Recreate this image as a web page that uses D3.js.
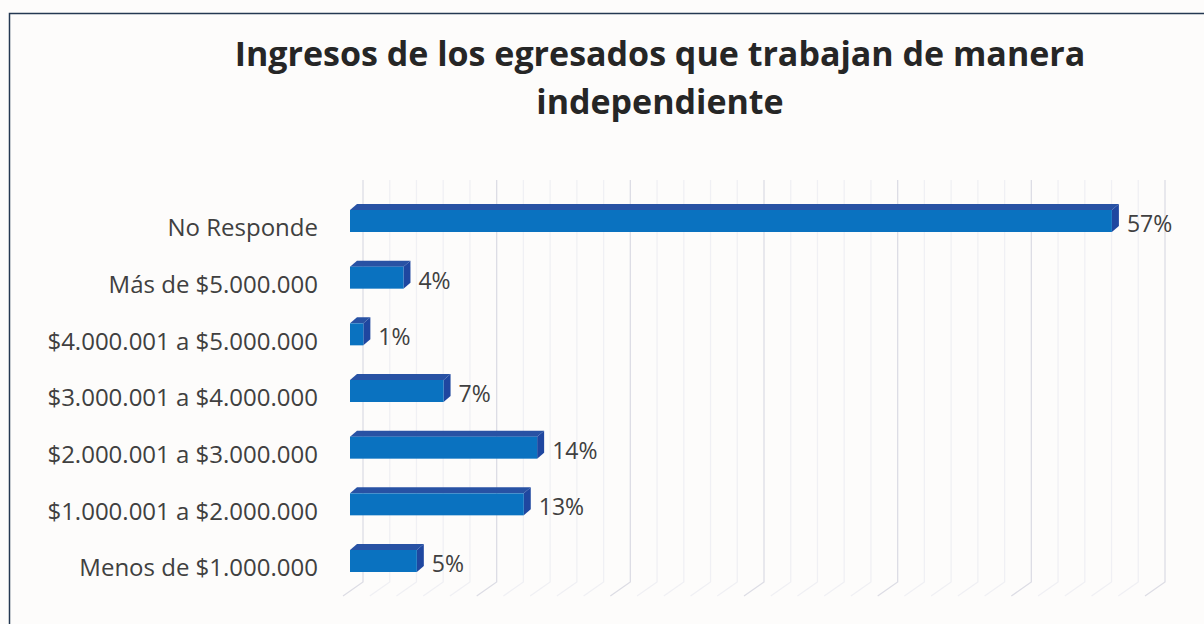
<!DOCTYPE html>
<html>
<head>
<meta charset="utf-8">
<script src="https://cdn.jsdelivr.net/npm/d3@7"></script>
<style>
  body { margin: 0; background: #fff; }
  svg { display: block; }
</style>
</head>
<body>
<svg id="chart" width="1204" height="624"></svg>
<script>
const width = 1204;
const height = 624;

// datos del gráfico
const categories = [
  "No Responde",
  "Más de $5.000.000",
  "$4.000.001 a $5.000.000",
  "$3.000.001 a $4.000.000",
  "$2.000.001 a $3.000.000",
  "$1.000.001 a $2.000.000",
  "Menos de $1.000.000"
];
const values = [57, 4, 1, 7, 14, 13, 5];
const gridTicks = d3.range(0, 61, 2);
const titleLines = ["Ingresos de los egresados que trabajan de manera", "independiente"];

const font = "'Open Sans', 'Noto Sans', sans-serif";
const depth = {dx: 13, dy: -2};   // desplazamiento de la pared del fondo
const barDepth = {dx: 7, dy: -6}; // profundidad de las barras

const svg = d3.select("#chart");

svg.append("rect")
  .attr("width", width).attr("height", height)
  .attr("fill", "#fdfcfb");

// borde del área del gráfico
svg.append("path")
  .attr("d", `M 9.5 ${height} V 13.5 H ${width}`)
  .attr("fill", "none")
  .attr("stroke", "#243852")
  .attr("stroke-width", 1.5);

const x = d3.scaleLinear().domain([0, 60]).range([350, 1152]);
const y = d3.scalePoint().domain(categories).range([221, 561]);
const barH = 22;

// lineas de cuadricula (pared y piso)
const grid = svg.append("g");
grid.selectAll("path")
  .data(gridTicks)
  .enter()
  .append("path")
  .attr("d", d => `M ${x(d) + depth.dx} 180 V 582 L ${x(d) - 7} 596`)
  .attr("fill", "none")
  .attr("stroke", d => d % 10 === 0 ? "#dddde5" : "#f0f0f4")
  .attr("stroke-width", 1.3);

// barras 3D
const bars = svg.append("g")
  .selectAll("g")
  .data(categories)
  .enter()
  .append("g");

bars.append("path") // cara superior
  .attr("d", (d, i) => {
    const x0 = x(0), x1 = x(values[i]), top = y(d) - barH / 2;
    return `M ${x0} ${top} L ${x0 + barDepth.dx} ${top + barDepth.dy} L ${x1 + barDepth.dx} ${top + barDepth.dy} L ${x1} ${top} Z`;
  })
  .attr("fill", "#2852a4");

bars.append("path") // cara lateral
  .attr("d", (d, i) => {
    const x1 = x(values[i]), top = y(d) - barH / 2;
    return `M ${x1} ${top} L ${x1 + barDepth.dx} ${top + barDepth.dy} L ${x1 + barDepth.dx} ${top + barH + barDepth.dy} L ${x1} ${top + barH} Z`;
  })
  .attr("fill", "#1f47a0");

bars.append("rect") // cara frontal
  .attr("x", x(0))
  .attr("y", d => y(d) - barH / 2)
  .attr("width", (d, i) => x(values[i]) - x(0))
  .attr("height", barH)
  .attr("fill", "#0a72c0");

// etiquetas de valores
bars.append("text")
  .attr("x", (d, i) => x(values[i]) + barDepth.dx + 8)
  .attr("y", d => y(d) + 3)
  .attr("dy", "0.35em")
  .attr("font-family", font)
  .attr("font-size", 23)
  .attr("fill", "#404040")
  .text((d, i) => values[i] + "%");

// etiquetas de categorias
svg.append("g")
  .selectAll("text")
  .data(categories)
  .enter()
  .append("text")
  .attr("x", 318)
  .attr("y", d => y(d) + 7)
  .attr("dy", "0.35em")
  .attr("text-anchor", "end")
  .attr("font-family", font)
  .attr("font-size", 24)
  .attr("fill", "#404040")
  .text(d => d);

// titulo
svg.append("g")
  .selectAll("text")
  .data(titleLines)
  .enter()
  .append("text")
  .attr("x", 660)
  .attr("y", (d, i) => 66 + i * 48)
  .attr("text-anchor", "middle")
  .attr("font-family", font)
  .attr("font-weight", "bold")
  .attr("font-size", 34)
  .attr("fill", "#262626")
  .text(d => d);
</script>
</body>
</html>
